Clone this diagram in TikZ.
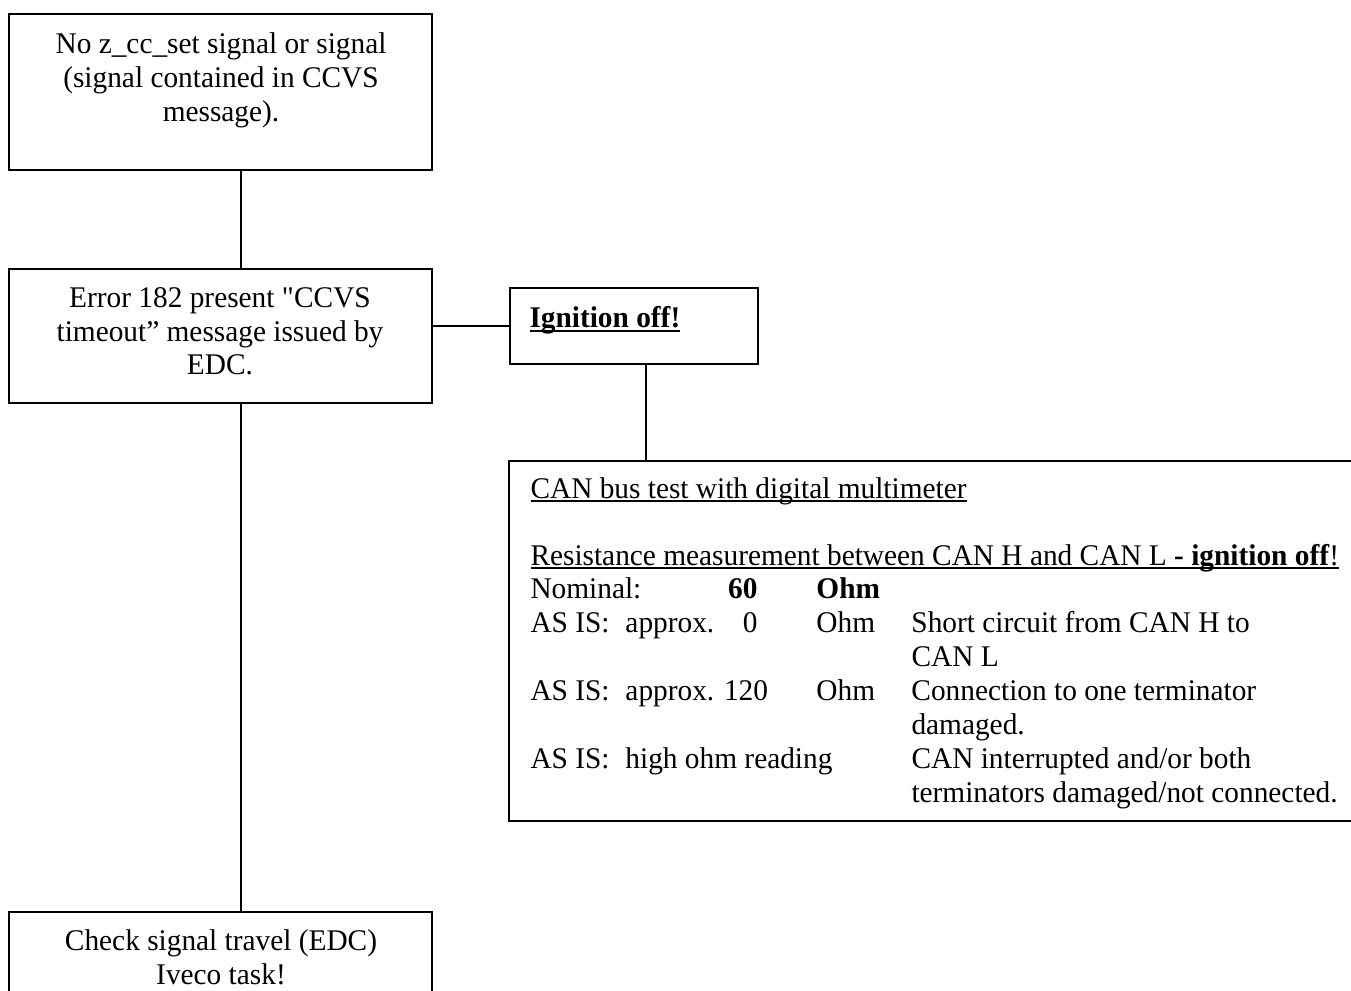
\documentclass[tikz,border=0pt]{standalone}
\usepackage{fontspec}
\setmainfont{Liberation Serif}[FakeStretch=0.978]
\usetikzlibrary{positioning,calc}
\newcommand{\uln}[1]{\setbox0=\hbox{#1}\rlap{\rule[-1.6pt]{\wd0}{0.8pt}}\box0}
\newcommand{\canrow}[4]{\makebox[38pt][l]{#1}\makebox[52.8pt][l]{#2}\makebox[23.6pt]{}\makebox[38pt][l]{#3}#4}
\tikzset{ % box and line style
    box/.style={rectangle, draw, line width=0.8pt, inner sep=0pt, minimum width=169.2pt},
    txt/.style={inner sep=0pt, align=center, anchor=north, font=\fontsize{12}{13.5}\selectfont},
    row/.style={inner sep=0pt, anchor=base west, font=\fontsize{12}{13.5}\selectfont},
    line/.style={draw, line width=0.8pt}
}
\begin{document}
\begin{tikzpicture}[x=0.4pt, y=-0.4pt]
	\useasboundingbox (0,0) rectangle (1351,991);
	\clip (0,0) rectangle (1351,991);
	%Boxes
	\node[box, minimum height=62.4pt] (fault) at (220.5,92) {};
	\node[box, minimum height=53.6pt] (error) at (220.5,336) {};
	\node[box, minimum width=99.2pt, minimum height=30.4pt] (ignition) at (634,326) {};
	\node[box, minimum width=338.8pt, minimum height=144pt] (cantest) at (932.5,641) {};
	\node[box, minimum height=39.2pt] (check) at (220.5,961) {};
	%Texts
	\node[txt] (faulttxt) at (221,32.5) {No z\_cc\_set signal or signal\\(signal contained in CCVS\\message).};
	\node[txt] (errortxt) at (220,287) {Error 182 present \textquotedbl CCVS\\timeout'' message issued by\\EDC.};
	\node[row] (ignitiontxt) at (529,328) {\uln{\textbf{Ignition off!}}};
	\node[txt] (checktxt) at (221,929) {Check signal travel (EDC)\\Iveco task!};
	\node[row] (r1) at (530,498) {\uln{CAN bus test with digital multimeter}};
	\node[row] (r2) at (530,565) {\uln{Resistance measurement between CAN H and CAN L \textbf{- ignition off}!}};
	\node[row] (r3) at (530,598) {\canrow{Nominal:}{\makebox[52.8pt][r]{\textbf{60}}}{\textbf{Ohm}}{}};
	\node[row] (r4) at (530,632) {\canrow{AS IS:}{\rlap{approx.}\makebox[52.8pt][r]{0}}{Ohm}{Short circuit from CAN H to}};
	\node[row] (r5) at (911,666) {CAN L};
	\node[row] (r6) at (530,700) {\canrow{AS IS:}{approx. 120}{Ohm}{Connection to one terminator}};
	\node[row] (r7) at (911,734) {damaged.};
	\node[row] (r8) at (530,768) {\makebox[38pt][l]{AS IS:}\makebox[114.4pt][l]{high ohm reading}CAN interrupted and/or both};
	\node[row] (r9) at (911,802) {terminators damaged/not connected.};
	%Edges
	\coordinate (spine) at (241,0);
	\coordinate (drop) at (646,0);
	\draw[line] (fault.south -| spine) -- (error.north -| spine);
	\draw[line] (ignition.west -| error.east) -- (ignition.west);
	\draw[line] (ignition.south -| drop) -- (cantest.north -| drop);
	\draw[line] (error.south -| spine) -- (check.north -| spine);
\end{tikzpicture}
\end{document}
